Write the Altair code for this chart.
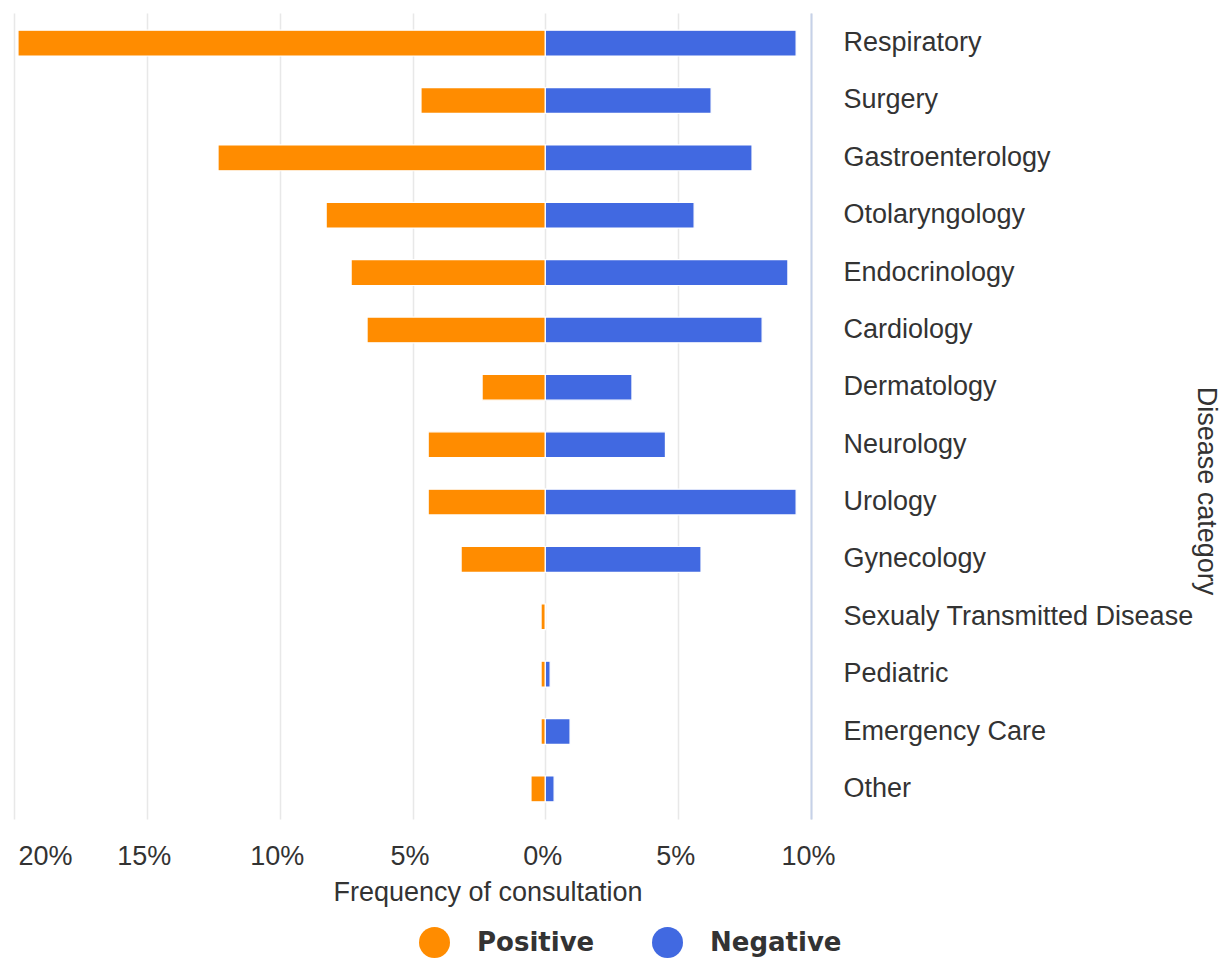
import altair as alt
import pandas as pd

categories = ["Respiratory", "Surgery", "Gastroenterology", "Otolaryngology",
              "Endocrinology", "Cardiology", "Dermatology", "Neurology", "Urology",
              "Gynecology", "Sexualy Transmitted Disease", "Pediatric",
              "Emergency Care", "Other"]
positive = [19.85, 4.68, 12.32, 8.25, 7.31, 6.71, 2.38, 4.41, 4.41, 3.17, 0.16, 0.16, 0.16, 0.54]
negative = [9.44, 6.24, 7.78, 5.6, 9.13, 8.16, 3.26, 4.52, 9.44, 5.86, 0.0, 0.18, 0.93, 0.33]
groups = ["Positive", "Negative"]
colors = ["#FF8C00", "#4169E1"]
x_ticks = [-20, -15, -10, -5, 0, 5, 10]

rows = []
for c, p, n in zip(categories, positive, negative):
    rows.append({"category": c, "group": "Positive", "value": -p})
    rows.append({"category": c, "group": "Negative", "value": n})
df = pd.DataFrame(rows)

FONT = "Liberation Sans"
TXT = "#333333"

chart = alt.Chart(df).mark_bar(stroke="white", strokeWidth=1.2).encode(
    x=alt.X("value:Q", stack=None,
            scale=alt.Scale(domain=[-20, 10], nice=False, zero=False),
            axis=alt.Axis(values=x_ticks, labelExpr="abs(datum.value) + '%'",
                          title="Frequency of consultation",
                          titleFont=FONT, titleFontSize=27, titleFontWeight="normal",
                          titleColor=TXT, titleX=473.5, titleY=81,
                          titleAlign="center", titleBaseline="alphabetic",
                          labelFont=FONT, labelFontSize=27, labelColor=TXT,
                          labelPadding=24, labelFlush=False, labelOverlap=False,
                          labelBound=False,
                          labelAlign={"condition": {"test": "datum.value == -20", "value": "left"}, "value": "center"},
                          labelOffset={"condition": {"test": "datum.value == -20", "value": 4}, "value": -3},
                          domain=False, ticks=False, grid=True,
                          gridColor="#e8e8e8", gridWidth=1.5)),
    y=alt.Y("category:N", sort=categories,
            scale=alt.Scale(paddingInner=0.55, paddingOuter=0.3),
            axis=alt.Axis(orient="right", title="Disease category",
                          titleFont=FONT, titleFontSize=27, titleFontWeight="normal",
                          titleColor=TXT, titleAngle=90, titleX=386, titleY=477.5,
                          titleAlign="center", titleBaseline="alphabetic",
                          labelFont=FONT, labelFontSize=27, labelColor=TXT,
                          labelAlign="left", labelPadding=32, labelLimit=400,
                          domain=True, domainColor="#c6d1e8", domainWidth=2,
                          ticks=False, grid=False)),
    color=alt.Color("group:N",
                    scale=alt.Scale(domain=groups, range=colors),
                    legend=alt.Legend(orient="none", legendX=405, legendY=914,
                                      direction="horizontal", title=None,
                                      symbolType="circle", symbolSize=961,
                                      symbolStrokeWidth=0, symbolOpacity=1,
                                      labelFont="DejaVu Sans", labelFontWeight="bold",
                                      labelFontSize=26, labelColor=TXT,
                                      labelOffset=27, columnPadding=57,
                                      padding=0, labelLimit=300)),
).properties(
    width=797, height=806,
    autosize=alt.AutoSizeParams(type="none"),
    padding={"left": 6, "top": 5, "right": 413, "bottom": 141},
    background="white",
).configure_view(stroke=None)

chart.save("out.html", embed_options={"renderer": "svg", "actions": False})
